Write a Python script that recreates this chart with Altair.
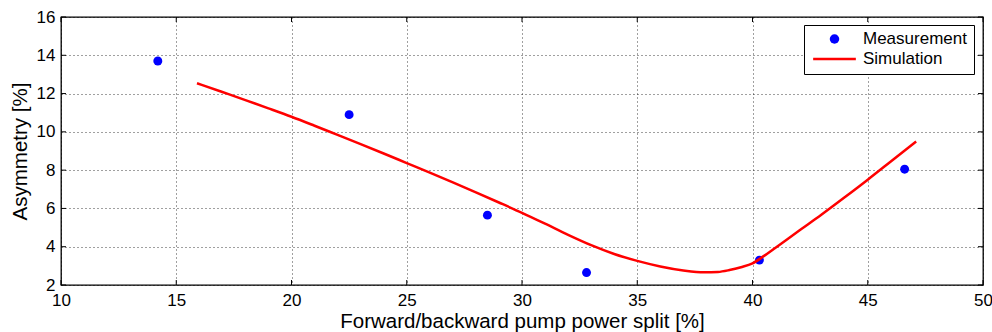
import altair as alt
import pandas as pd

# ---- data ----
meas_x = [14.2, 22.5, 28.5, 32.8, 40.3, 46.6]
meas_y = [13.7, 10.9, 5.65, 2.65, 3.3, 8.05]

sim_x = [15.9, 17, 18, 19, 20, 21, 22, 23, 24, 25, 26, 27, 28, 29, 30, 31, 32, 33,
         34, 35, 36, 37, 37.9, 38.5, 39, 39.5, 40, 40.5, 41, 42, 43, 44, 45, 46, 47.1]
sim_y = [12.54, 12.08, 11.66, 11.23, 10.79, 10.32, 9.84, 9.36, 8.87, 8.37, 7.87,
         7.36, 6.84, 6.31, 5.77, 5.20, 4.62, 4.08, 3.62, 3.26, 2.97, 2.76, 2.66,
         2.68, 2.78, 2.93, 3.13, 3.52, 3.95, 4.82, 5.68, 6.58, 7.50, 8.45, 9.50]

x_ticks = [10, 15, 20, 25, 30, 35, 40, 45, 50]
y_ticks = [2, 4, 6, 8, 10, 12, 14, 16]

series = ["Measurement", "Simulation"]
fill_colors = ["#0000ff", "rgba(0,0,0,0)"]
stroke_colors = ["rgba(0,0,0,0)", "#ff0000"]
legend_shapes = ["circle", "M-4.5,0H4.5"]

x_title = "Forward/backward pump power split [%]"
y_title = "Asymmetry [%]"

FONT = "Liberation Sans"
W, H = 922, 268

meas_df = pd.DataFrame({"x": meas_x, "y": meas_y, "series": series[0]})
sim_df = pd.DataFrame({"x": sim_x, "y": sim_y, "series": series[1]})
xt_df = pd.DataFrame({"x": x_ticks})
yt_df = pd.DataFrame({"y": y_ticks})

xscale = alt.Scale(domain=[10, 50], nice=False, zero=False)
yscale = alt.Scale(domain=[2, 16], nice=False, zero=False)
fscale = alt.Scale(domain=series, range=fill_colors)
sscale = alt.Scale(domain=series, range=stroke_colors)
shscale = alt.Scale(domain=series, range=legend_shapes)

x_axis = alt.Axis(values=x_ticks, title=x_title, grid=True, ticks=False, domain=False,
                  labelPadding=7, labelFontSize=17, titleFontSize=20.5,
                  titlePadding=3, labelOverlap=False, labelFlush=False, format="d")
y_axis = alt.Axis(values=y_ticks, title=y_title, grid=True, ticks=False, domain=False,
                  labelPadding=6, labelFontSize=17, titleFontSize=20.5,
                  titlePadding=6, labelOverlap=False, labelFlush=False, format="d")

legend = alt.Legend(
    title=None, orient="none", legendX=743, legendY=8,
    strokeColor="black", fillColor="white", padding=7,
    labelFontSize=17, labelFont=FONT, labelColor="black",
    symbolSize=90, symbolStrokeWidth=2.5, symbolOpacity=1,
    clipHeight=14, rowPadding=3, labelOffset=20, symbolOffset=15,
)

X = alt.X("x:Q", scale=xscale, axis=x_axis)
Y = alt.Y("y:Q", scale=yscale, axis=y_axis)

points = alt.Chart(meas_df).mark_point(filled=True, size=80, opacity=1).encode(
    x=X, y=Y,
    fill=alt.Fill("series:N", scale=fscale, legend=legend),
    stroke=alt.Stroke("series:N", scale=sscale, legend=legend),
    shape=alt.Shape("series:N", scale=shscale, legend=legend),
)

line = alt.Chart(sim_df).mark_line(strokeWidth=2.5, interpolate="monotone").encode(
    x=X, y=Y,
    stroke=alt.Stroke("series:N", scale=sscale, legend=legend),
)

tick_len = 5
bottom_ticks = alt.Chart(xt_df).mark_rule(color="black", strokeWidth=1).encode(
    x=X, y=alt.value(H), y2=alt.value(H - tick_len))
top_ticks = alt.Chart(xt_df).mark_rule(color="black", strokeWidth=1).encode(
    x=X, y=alt.value(0), y2=alt.value(tick_len))
left_ticks = alt.Chart(yt_df).mark_rule(color="black", strokeWidth=1).encode(
    y=Y, x=alt.value(0), x2=alt.value(tick_len))
right_ticks = alt.Chart(yt_df).mark_rule(color="black", strokeWidth=1).encode(
    y=Y, x=alt.value(W), x2=alt.value(W - tick_len))

chart = alt.layer(
    points, line, bottom_ticks, top_ticks, left_ticks, right_ticks
).properties(
    width=W, height=H, autosize="none",
    padding={"left": 61, "top": 17, "right": 9, "bottom": 47},
    background="white",
).configure(font=FONT).configure_axis(
    gridColor="#000000", gridDash=[1, 3], gridWidth=1, gridOpacity=0.75,
    labelColor="black", titleColor="black", titleFontWeight="normal", labelFont=FONT,
    titleFont=FONT,
).configure_view(stroke="black", strokeWidth=1.3)

chart.save("out.html", embed_options={"renderer": "svg", "actions": False})
